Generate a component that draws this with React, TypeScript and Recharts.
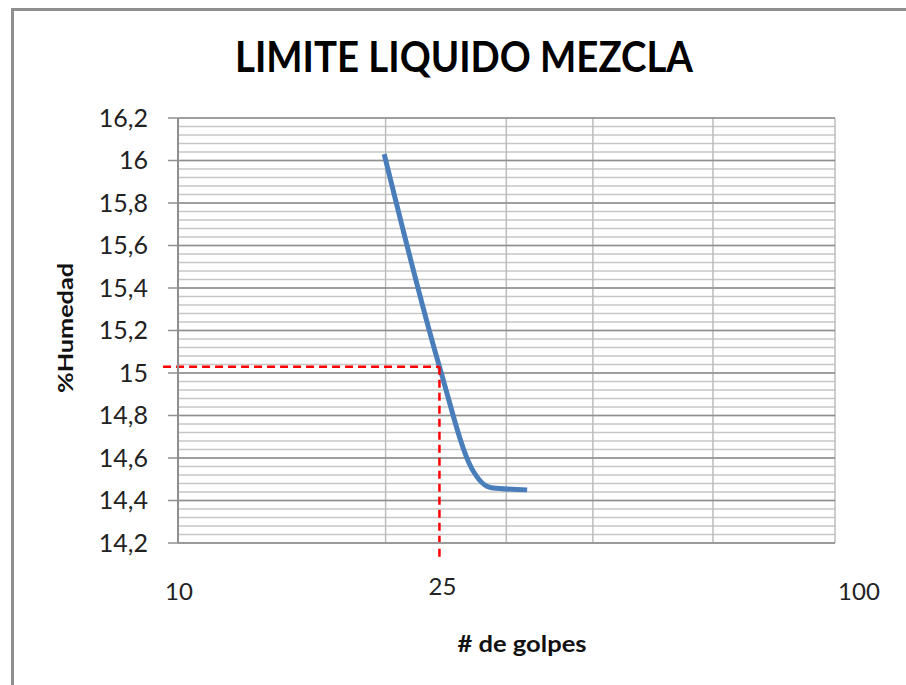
import { CartesianGrid, Line, LineChart, ReferenceLine, XAxis, YAxis } from 'recharts'

// puntos del ensayo (golpes vs % humedad)
const golpes = [20.6, 25, 28, 30, 34]
const humedad = [16.03, 15.03, 14.55, 14.46, 14.45]

const golpesTicks = [10, 25, 100]
const golpesGrid = [10, 20.7, 31.6, 42.8, 65.2, 100]
const humedadTicks = [14.2, 14.4, 14.6, 14.8, 15, 15.2, 15.4, 15.6, 15.8, 16, 16.2]

// limite liquido leido a 25 golpes
const golpesLL = 25
const limiteLiquido = 15.03
const refLeft = 9.49
const refBottom = 14.12

const data = golpes.map((g, i) => ({ golpes: g, humedad: humedad[i] }))

const humedadMinor: number[] = []
for (let i = 0; i <= 50; i++) humedadMinor.push(Number((14.2 + i * 0.04).toFixed(2)))

const tickShift: Record<number, { dx: number; dy: number }> = {
  10: { dx: 1, dy: 57 },
  25: { dx: 3, dy: 52 },
  100: { dx: 24, dy: 57 },
}

const XTick = (props: any) => {
  const { x, y, payload } = props
  const s = tickShift[payload.value] ?? { dx: 0, dy: 57 }
  return (
    <text x={x + s.dx} y={y + s.dy} textAnchor="middle" fontSize={24} fill="#222" fontFamily="Lato">
      {payload.value}
    </text>
  )
}

export default function App() {
  return (
    <div
      style={{
        position: 'absolute',
        left: 0,
        top: 0,
        width: 906,
        height: 685,
        overflow: 'hidden',
        background: '#fff',
        fontFamily: 'Lato',
      }}
    >
      <div
        style={{
          position: 'absolute',
          left: 11,
          top: 8,
          width: 1000,
          height: 1000,
          borderLeft: '3px solid #8f8f8f',
          borderTop: '3px solid #8f8f8f',
        }}
      />
      <div style={{ position: 'absolute', left: 0, top: 0 }}>
        <LineChart
          width={906}
          height={685}
          data={data}
          margin={{ top: 118, right: 71, bottom: 82, left: 78 }}
        >
          <CartesianGrid
            horizontalValues={humedadMinor}
            vertical={false}
            stroke="#c6c6c6"
            strokeWidth={1.5}
          />
          <CartesianGrid
            horizontal={false}
            verticalValues={golpesGrid}
            stroke="#bcbcbc"
            strokeWidth={1.5}
          />
          <CartesianGrid
            horizontalValues={humedadTicks}
            vertical={false}
            stroke="#8e8e8e"
            strokeWidth={1.5}
          />
          <XAxis
            dataKey="golpes"
            type="number"
            scale="log"
            domain={[10, 100]}
            ticks={golpesTicks}
            interval={0}
            allowDataOverflow
            height={60}
            tickSize={0}
            tickMargin={0}
            tickLine={false}
            axisLine={{ stroke: '#9a9a9a', strokeWidth: 2 }}
            tick={<XTick />}
          />
          <YAxis
            type="number"
            domain={[14.2, 16.2]}
            ticks={humedadTicks}
            interval={0}
            allowDataOverflow
            width={100}
            tickSize={10}
            tickMargin={20}
            axisLine={{ stroke: '#8f8f8f', strokeWidth: 2 }}
            tickLine={{ stroke: '#8f8f8f', strokeWidth: 1.5 }}
            tick={{ fill: '#222', fontSize: 25, fontFamily: 'Lato' }}
            tickFormatter={(v: number) => String(v).replace('.', ',')}
          />
          <Line
            type="monotoneX"
            dataKey="humedad"
            stroke="#4a7ebb"
            strokeWidth={5}
            dot={false}
            isAnimationActive={false}
          />
          <ReferenceLine
            segment={[
              { x: refLeft, y: limiteLiquido },
              { x: golpesLL, y: limiteLiquido },
            ]}
            ifOverflow="visible"
            stroke="#ff0000"
            strokeWidth={2.5}
            strokeDasharray="8 5"
          />
          <ReferenceLine
            segment={[
              { x: golpesLL, y: limiteLiquido },
              { x: golpesLL, y: refBottom },
            ]}
            ifOverflow="visible"
            stroke="#ff0000"
            strokeWidth={2.5}
            strokeDasharray="8 5"
          />
        </LineChart>
      </div>
      <svg
        width={906}
        height={685}
        style={{ position: 'absolute', left: 0, top: 0, pointerEvents: 'none' }}
      >
        <text
          x={464}
          y={72}
          textAnchor="middle"
          fontSize={42}
          fontWeight={700}
          fontFamily="Lato"
          fill="#000"
          textLength={458}
          lengthAdjust="spacingAndGlyphs"
        >
          LIMITE LIQUIDO MEZCLA
        </text>
        <text
          x={73}
          y={328}
          textAnchor="middle"
          fontSize={21}
          fontWeight={700}
          fontFamily="Lato"
          fill="#111"
          textLength={130}
          lengthAdjust="spacingAndGlyphs"
          transform="rotate(-90 73 328)"
        >
          %Humedad
        </text>
        <text
          x={522}
          y={652}
          textAnchor="middle"
          fontSize={22}
          fontWeight={700}
          fontFamily="Lato"
          fill="#111"
          textLength={129}
          lengthAdjust="spacingAndGlyphs"
        >
          # de golpes
        </text>
      </svg>
    </div>
  )
}
